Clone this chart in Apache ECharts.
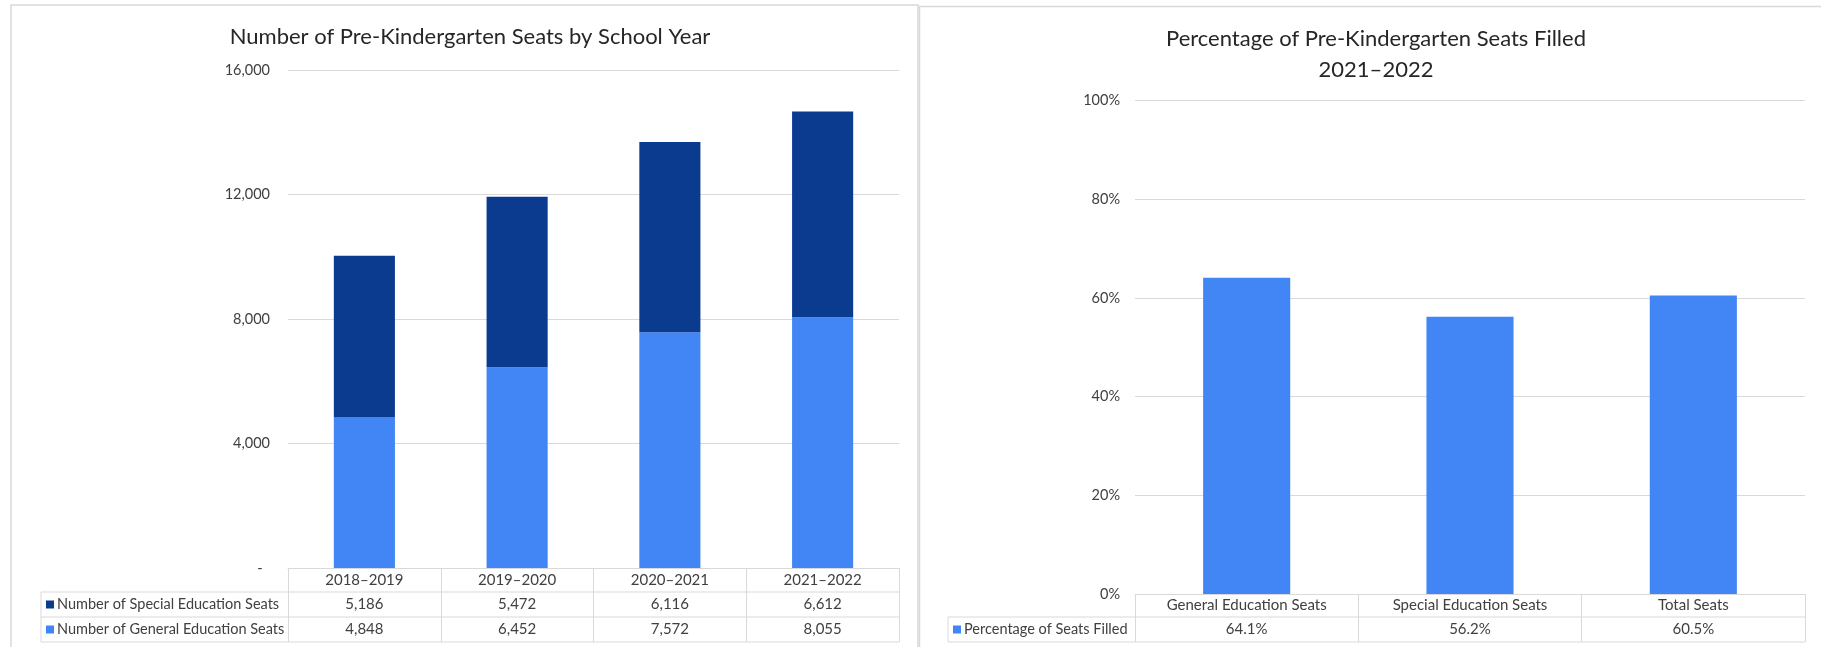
<!DOCTYPE html>
<html>
<head>
<meta charset="utf-8">
<script src="https://cdn.jsdelivr.net/npm/echarts@6/dist/echarts.min.js"></script>
<style>
html,body{margin:0;padding:0;background:#fff;}
#c{width:1821px;height:647px;}
</style>
</head>
<body>
<div id="c"></div>
<script>
// ---- data ----
const years = ['2018–2019', '2019–2020', '2020–2021', '2021–2022'];
const specialSeats = [5186, 5472, 6116, 6612];
const generalSeats = [4848, 6452, 7572, 8055];
const seatTypes = ['General Education Seats', 'Special Education Seats', 'Total Seats'];
const pctFilled = [64.1, 56.2, 60.5];
const leftTicks = [0, 4000, 8000, 12000, 16000];
const rightTicks = [0, 20, 40, 60, 80, 100];

const nameSpecial = 'Number of Special Education Seats';
const nameGeneral = 'Number of General Education Seats';
const namePct = 'Percentage of Seats Filled';

// ---- layout ----
const W = 1821, H = 647;
const FONT = 'Lato, "Open Sans", sans-serif';
const TXT = '#404040';
const LINE = '#d9d9d9';
const DARK = '#0B3B8F';
const LIGHT = '#4285F4';

const L = {left: 288, right: 899, top: 70, bottom: 568, rowEnd: [592, 617, 642], legLeft: 41};
const R = {left: 1135, right: 1805, top: 100.5, bottom: 594, rowEnd: [617, 642], legLeft: 948};

const fmt = v => v.toLocaleString('en-US');

const chart = echarts.init(document.getElementById('c'), null, {renderer: 'canvas'});

function hline(x1, x2, y) {
  return {type: 'line', silent: true, shape: {x1: x1, y1: y, x2: x2, y2: y}, style: {stroke: LINE, lineWidth: 1}};
}
function vline(x, y1, y2) {
  return {type: 'line', silent: true, shape: {x1: x, y1: y1, x2: x, y2: y2}, style: {stroke: LINE, lineWidth: 1}};
}

const graphics = [
  // panel borders
  {type: 'rect', silent: true, shape: {x: 11, y: 5, width: 907, height: 700}, style: {fill: 'none', stroke: LINE, lineWidth: 1.5}},
  {type: 'rect', silent: true, shape: {x: 919.5, y: 6.5, width: 1000, height: 700}, style: {fill: 'none', stroke: LINE, lineWidth: 1.5}},
  // left data table rows
  hline(L.legLeft, L.right, L.rowEnd[0]),
  hline(L.legLeft, L.right, L.rowEnd[1]),
  hline(L.legLeft, L.right, L.rowEnd[2]),
  vline(L.legLeft, L.rowEnd[0], L.rowEnd[2]),
  // right data table rows
  hline(R.legLeft, R.right, R.rowEnd[0]),
  hline(R.legLeft, R.right, R.rowEnd[1]),
  vline(R.legLeft, R.rowEnd[0], R.rowEnd[1])
];

const option = {
  animation: false,
  backgroundColor: '#fff',
  textStyle: {fontFamily: FONT},
  title: [
    {text: 'Number of Pre-Kindergarten Seats by School Year', left: 465, top: 21, textAlign: 'center',
     textStyle: {fontFamily: FONT, fontSize: 22, fontWeight: 'normal', color: '#262626'}},
    {text: 'Percentage of Pre-Kindergarten Seats Filled\n2021–2022', left: 1371, top: 18, textAlign: 'center',
     textStyle: {fontFamily: FONT, fontSize: 22, fontWeight: 'normal', color: '#262626', lineHeight: 31}}
  ],
  legend: [
    {data: [nameSpecial, nameGeneral], orient: 'vertical', left: 46, top: L.rowEnd[0], itemGap: 0,
     itemWidth: 8, itemHeight: 8, icon: 'rect', selectedMode: false,
     textStyle: {fontFamily: FONT, fontSize: 14.5, color: TXT, lineHeight: 25, padding: [0, 0, 0, -2]}, padding: 0},
    {data: [namePct], orient: 'vertical', left: 953, top: R.rowEnd[0], itemGap: 0,
     itemWidth: 8, itemHeight: 8, icon: 'rect', selectedMode: false,
     textStyle: {fontFamily: FONT, fontSize: 14.5, color: TXT, lineHeight: 25, padding: [0, 0, 0, -2]}, padding: 0}
  ],
  grid: [
    {left: L.left, right: W - L.right, top: L.top, bottom: H - L.bottom, containLabel: false},
    {left: R.left, right: W - R.right, top: R.top, bottom: H - R.bottom, containLabel: false}
  ],
  xAxis: [
    {type: 'category', gridIndex: 0, data: years,
     axisLine: {lineStyle: {color: LINE}},
     axisTick: {show: true, interval: 0, length: L.rowEnd[2] - L.bottom, lineStyle: {color: LINE}},
     axisLabel: {interval: 0, margin: 0, verticalAlign: 'top',
       formatter: (v, i) => '{h|' + v + '}\n{r|' + fmt(specialSeats[i]) + '}\n{r|' + fmt(generalSeats[i]) + '}',
       rich: {h: {fontFamily: FONT, fontSize: 15, color: TXT, height: 24, lineHeight: 24},
              r: {fontFamily: FONT, fontSize: 15, color: TXT, height: 25, lineHeight: 25}}}},
    {type: 'category', gridIndex: 1, data: seatTypes,
     axisLine: {lineStyle: {color: LINE}},
     axisTick: {show: true, interval: 0, length: R.rowEnd[1] - R.bottom, lineStyle: {color: LINE}},
     axisLabel: {interval: 0, margin: 0, verticalAlign: 'top',
       formatter: (v, i) => '{h|' + v + '}\n{r|' + pctFilled[i].toFixed(1) + '%}',
       rich: {h: {fontFamily: FONT, fontSize: 15, color: TXT, height: 23, lineHeight: 23},
              r: {fontFamily: FONT, fontSize: 15, color: TXT, height: 25, lineHeight: 25}}}}
  ],
  yAxis: [
    {type: 'value', gridIndex: 0, min: leftTicks[0], max: leftTicks[leftTicks.length - 1], interval: leftTicks[1] - leftTicks[0],
     axisLine: {show: false}, axisTick: {show: false},
     splitLine: {lineStyle: {color: LINE, width: 1}},
     axisLabel: {margin: 18, fontFamily: FONT, fontSize: 14.5, color: TXT,
       formatter: v => v === 0 ? '-  ' : fmt(v)}},
    {type: 'value', gridIndex: 1, min: rightTicks[0], max: rightTicks[rightTicks.length - 1], interval: rightTicks[1] - rightTicks[0],
     axisLine: {show: false}, axisTick: {show: false},
     splitLine: {lineStyle: {color: LINE, width: 1}},
     axisLabel: {margin: 15, fontFamily: FONT, fontSize: 14.5, color: TXT, formatter: '{value}%'}}
  ],
  series: [
    {name: nameGeneral, type: 'bar', stack: 'seats', xAxisIndex: 0, yAxisIndex: 0, data: generalSeats,
     barWidth: '40%', itemStyle: {color: LIGHT}},
    {name: nameSpecial, type: 'bar', stack: 'seats', xAxisIndex: 0, yAxisIndex: 0, data: specialSeats,
     barWidth: '40%', itemStyle: {color: DARK}},
    {name: namePct, type: 'bar', xAxisIndex: 1, yAxisIndex: 1, data: pctFilled,
     barWidth: '39%', itemStyle: {color: LIGHT}}
  ],
  graphic: graphics
};
chart.setOption(option);
</script>
</body>
</html>
